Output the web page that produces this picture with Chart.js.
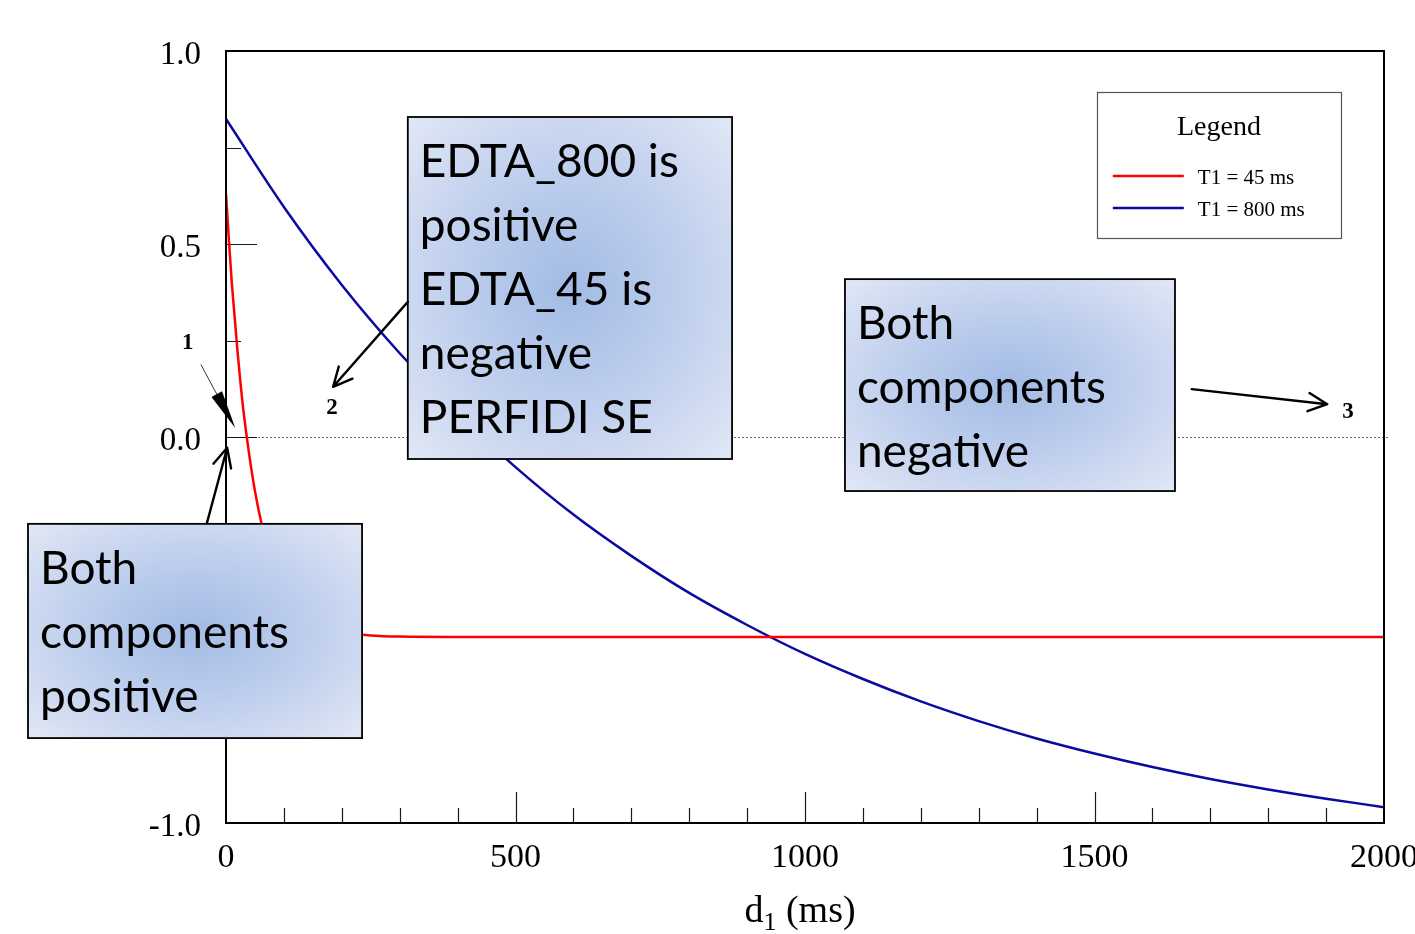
<!DOCTYPE html>
<html>
<head>
<meta charset="utf-8">
<script src="https://cdn.jsdelivr.net/npm/chart.js@4.4.1/dist/chart.umd.min.js"></script>
<style>
  html, body { margin: 0; padding: 0; background: #ffffff; }
  canvas { display: block; }
</style>
</head>
<body>
<canvas id="chart" width="1415" height="934"></canvas>
<script>
// Recovery curves: signal versus first delay d1 (ms)
const delayMsT45 = [0, 5, 10, 15, 20, 25, 30, 40, 50, 60, 70, 80, 100, 125, 150, 200, 250, 300, 400, 600, 1000, 1500, 2000];
const signalT45 = [0.63, 0.51, 0.40, 0.31, 0.22, 0.14, 0.07, -0.045, -0.14, -0.215, -0.275, -0.324, -0.393, -0.447, -0.477, -0.505, -0.514, -0.517, -0.518, -0.518, -0.518, -0.518, -0.518];

const delayMsT800 = [0, 100, 200, 300, 400, 500, 600, 700, 800, 900, 1000, 1100, 1200, 1300, 1400, 1500, 1600, 1700, 1800, 1900, 2000];
const signalT800 = [0.824, 0.596, 0.394, 0.217, 0.060, -0.078, -0.201, -0.308, -0.404, -0.487, -0.562, -0.627, -0.685, -0.736, -0.781, -0.820, -0.855, -0.886, -0.913, -0.937, -0.959];

const seriesLabels = ['T1 = 45 ms', 'T1 = 800 ms'];
const seriesColors = ['#ff0000', '#0a0aa0'];

const xTickValues = [0, 500, 1000, 1500, 2000];
const yTickValues = [-1.0, -0.5, 0.0, 0.5, 1.0];

const legendTitle = 'Legend';
const axisTitleMain = 'd';
const axisTitleSub = '1';
const axisTitleRest = ' (ms)';

// Call-out boxes, placed in data units (ms, signal)
const calloutBoxes = [
  { x0: 314, x1: 874, y0: 0.829, y1: -0.057, lines: ['EDTA_800 is', 'positive', 'EDTA_45 is', 'negative', 'PERFIDI SE'] },
  { x0: 1069, x1: 1639, y0: 0.409, y1: -0.140, lines: ['Both', 'components', 'negative'] },
  { x0: -342, x1: 235, y0: -0.225, y1: -0.780, lines: ['Both', 'components', 'positive'] }
];
// Open arrows: from -> to (tip)
const calloutArrows = [
  { from: [314, 0.350], to: [185, 0.130] },
  { from: [1668, 0.124], to: [1902, 0.085] },
  { from: [-33, -0.223], to: [2, -0.028] }
];
// Region markers
const regionMarks = [
  { text: '1', at: [-66, 0.244] },
  { text: '2', at: [183, 0.075] },
  { text: '3', at: [1938, 0.065] }
];
const pointerOne = { from: [-43, 0.187], mid: [-16, 0.111], tip: [16, 0.023] };
const legendBox = { x0: 1504, x1: 1926, y0: 0.894, y1: 0.516 };

const SERIF = '"Liberation Serif", "Times New Roman", serif';
const SANS = 'Lato, "Open Sans", sans-serif';

function px(chart, xv, yv) {
  return [chart.scales.x.getPixelForValue(xv), chart.scales.y.getPixelForValue(yv)];
}

function drawOpenArrow(ctx, x0, y0, x1, y1) {
  const ang = Math.atan2(y1 - y0, x1 - x0);
  const len = 21, spread = 0.45;
  ctx.beginPath();
  ctx.moveTo(x0, y0);
  ctx.lineTo(x1, y1);
  ctx.moveTo(x1 - len * Math.cos(ang - spread), y1 - len * Math.sin(ang - spread));
  ctx.lineTo(x1, y1);
  ctx.lineTo(x1 - len * Math.cos(ang + spread), y1 - len * Math.sin(ang + spread));
  ctx.stroke();
}

const decorations = {
  id: 'decorations',
  beforeDatasetsDraw(chart) {
    const { ctx, chartArea: a, scales: { x, y } } = chart;
    ctx.save();
    // dotted zero line
    const yz = Math.round(y.getPixelForValue(0)) + 0.5;
    ctx.strokeStyle = '#6a6a6a';
    ctx.lineWidth = 1;
    ctx.setLineDash([2, 2]);
    ctx.beginPath();
    ctx.moveTo(a.left, yz);
    ctx.lineTo(a.right + 5, yz);
    ctx.stroke();
    ctx.setLineDash([]);
    // inward tick marks
    ctx.strokeStyle = '#1a1a1a';
    ctx.lineWidth = 1.2;
    ctx.beginPath();
    for (let v = 100; v < 2000; v += 100) {
      const xp = Math.round(x.getPixelForValue(v)) + 0.5;
      const l = (v % 500 === 0) ? 31 : 15;
      ctx.moveTo(xp, a.bottom);
      ctx.lineTo(xp, a.bottom - l);
    }
    for (let v = -0.75; v < 1.0; v += 0.25) {
      const yp = Math.round(y.getPixelForValue(v)) + 0.5;
      const l = (Math.abs(v * 2 - Math.round(v * 2)) < 1e-6) ? 31 : 15;
      ctx.moveTo(a.left, yp);
      ctx.lineTo(a.left + l, yp);
    }
    ctx.stroke();
    ctx.restore();
  },
  afterDatasetsDraw(chart) {
    const { ctx, chartArea: a } = chart;
    ctx.save();
    ctx.strokeStyle = '#000';
    ctx.lineWidth = 2;
    ctx.strokeRect(a.left, a.top, a.right - a.left, a.bottom - a.top);
    ctx.restore();
  },
  afterDraw(chart) {
    const { ctx, chartArea: a } = chart;
    ctx.save();

    // legend
    const [lx0, ly0] = px(chart, legendBox.x0, legendBox.y0);
    const [lx1, ly1] = px(chart, legendBox.x1, legendBox.y1);
    ctx.fillStyle = '#fff';
    ctx.fillRect(lx0, ly0, lx1 - lx0, ly1 - ly0);
    ctx.strokeStyle = '#555';
    ctx.lineWidth = 1.2;
    ctx.strokeRect(Math.round(lx0) + 0.5, Math.round(ly0) + 0.5, Math.round(lx1 - lx0), Math.round(ly1 - ly0));
    ctx.fillStyle = '#000';
    ctx.font = '28px ' + SERIF;
    ctx.textAlign = 'center';
    ctx.textBaseline = 'alphabetic';
    ctx.fillText(legendTitle, (lx0 + lx1) / 2, ly0 + 43);
    ctx.textAlign = 'left';
    ctx.font = '21px ' + SERIF;
    chart.data.datasets.forEach((ds, i) => {
      const yy = ly0 + 84 + i * 32;
      ctx.strokeStyle = ds.borderColor;
      ctx.lineWidth = 2.5;
      ctx.beginPath();
      ctx.moveTo(lx0 + 16, yy);
      ctx.lineTo(lx0 + 87, yy);
      ctx.stroke();
      ctx.fillStyle = '#000';
      ctx.fillText(ds.label, lx0 + 101, yy + 8);
    });

    // axis title with subscript
    ctx.fillStyle = '#000';
    ctx.textAlign = 'left';
    const fMain = '38px ' + SERIF, fSub = '26px ' + SERIF;
    ctx.font = fMain;
    const w1 = ctx.measureText(axisTitleMain).width;
    const w3 = ctx.measureText(axisTitleRest).width;
    ctx.font = fSub;
    const w2 = ctx.measureText(axisTitleSub).width;
    const cx = (a.left + a.right) / 2 - 5;
    let tx = cx - (w1 + w2 + w3) / 2;
    const base = 922;
    ctx.font = fMain; ctx.fillText(axisTitleMain, tx, base); tx += w1;
    ctx.font = fSub; ctx.fillText(axisTitleSub, tx, base + 8); tx += w2;
    ctx.font = fMain; ctx.fillText(axisTitleRest, tx, base);

    // call-out boxes
    calloutBoxes.forEach(b => {
      const [x0, y0] = px(chart, b.x0, b.y0);
      const [x1, y1] = px(chart, b.x1, b.y1);
      const w = x1 - x0, h = y1 - y0;
      ctx.save();
      ctx.beginPath();
      ctx.rect(x0, y0, w, h);
      ctx.clip();
      ctx.translate(x0 + w / 2, y0 + h / 2);
      ctx.scale(w / 2, h / 2);
      const g = ctx.createRadialGradient(0, 0, 0, 0, 0, Math.SQRT2);
      g.addColorStop(0, '#a2bbe5');
      g.addColorStop(0.55, '#c2d1ee');
      g.addColorStop(1, '#e2e8f5');
      ctx.fillStyle = g;
      ctx.fillRect(-1, -1, 2, 2);
      ctx.restore();
      ctx.strokeStyle = '#000';
      ctx.lineWidth = 1.8;
      ctx.strokeRect(x0, y0, w, h);
      ctx.fillStyle = '#000';
      ctx.font = '46px ' + SANS;
      ctx.textAlign = 'left';
      b.lines.forEach((t, i) => ctx.fillText(t, x0 + 12, y0 + 60 + i * 64));
    });

    // arrows
    ctx.strokeStyle = '#000';
    ctx.lineWidth = 2.4;
    ctx.lineCap = 'round';
    ctx.lineJoin = 'round';
    calloutArrows.forEach(ar => {
      const [ax, ay] = px(chart, ar.from[0], ar.from[1]);
      const [bx, by] = px(chart, ar.to[0], ar.to[1]);
      drawOpenArrow(ctx, ax, ay, bx, by);
    });

    // thin pointer with filled head for region 1
    const [p0x, p0y] = px(chart, pointerOne.from[0], pointerOne.from[1]);
    const [p1x, p1y] = px(chart, pointerOne.mid[0], pointerOne.mid[1]);
    const [p2x, p2y] = px(chart, pointerOne.tip[0], pointerOne.tip[1]);
    ctx.strokeStyle = '#333';
    ctx.lineWidth = 1;
    ctx.beginPath();
    ctx.moveTo(p0x, p0y);
    ctx.lineTo(p1x, p1y);
    ctx.stroke();
    const ang = Math.atan2(p2y - p1y, p2x - p1x);
    const nx = -Math.sin(ang), ny = Math.cos(ang);
    ctx.fillStyle = '#000';
    ctx.beginPath();
    ctx.moveTo(p1x + nx * 6, p1y + ny * 6);
    ctx.lineTo(p1x - nx * 6, p1y - ny * 6);
    ctx.lineTo(p2x, p2y);
    ctx.closePath();
    ctx.fill();

    // region numbers
    ctx.font = 'bold 23px ' + SERIF;
    ctx.textAlign = 'center';
    ctx.textBaseline = 'middle';
    regionMarks.forEach(m => {
      const [mx, my] = px(chart, m.at[0], m.at[1]);
      ctx.fillText(m.text, mx, my);
    });
    ctx.restore();
  }
};

new Chart(document.getElementById('chart'), {
  type: 'line',
  data: {
    datasets: [
      {
        label: seriesLabels[0],
        data: delayMsT45.map((d, i) => ({ x: d, y: signalT45[i] })),
        borderColor: seriesColors[0],
        borderWidth: 2.5,
        pointRadius: 0,
        cubicInterpolationMode: 'monotone',
        fill: false
      },
      {
        label: seriesLabels[1],
        data: delayMsT800.map((d, i) => ({ x: d, y: signalT800[i] })),
        borderColor: seriesColors[1],
        borderWidth: 2.5,
        pointRadius: 0,
        cubicInterpolationMode: 'monotone',
        fill: false
      }
    ]
  },
  options: {
    responsive: false,
    animation: false,
    devicePixelRatio: 1,
    layout: { padding: { left: 0, right: 31, top: 51, bottom: 0 } },
    plugins: { legend: { display: false }, tooltip: { enabled: false } },
    scales: {
      x: {
        type: 'linear',
        min: 0,
        max: 2000,
        afterFit: s => { s.height = 111; s.paddingLeft = 0; s.paddingRight = 0; },
        afterBuildTicks: s => { s.ticks = xTickValues.map(v => ({ value: v })); },
        grid: { display: false, drawTicks: false },
        border: { display: false },
        ticks: {
          color: '#000',
          padding: 15,
          maxRotation: 0,
          autoSkip: false,
          font: { family: SERIF, size: 34 },
          callback: v => String(v)
        }
      },
      y: {
        type: 'linear',
        min: -1,
        max: 1,
        afterFit: s => { s.width = 226; s.paddingTop = 0; s.paddingBottom = 0; },
        afterBuildTicks: s => { s.ticks = yTickValues.map(v => ({ value: v })); },
        grid: { display: false, drawTicks: false },
        border: { display: false },
        ticks: {
          color: '#000',
          padding: 25,
          labelOffset: 4,
          autoSkip: false,
          font: { family: SERIF, size: 33 },
          callback: v => Number(v).toFixed(1)
        }
      }
    }
  },
  plugins: [decorations]
});
</script>
</body>
</html>
